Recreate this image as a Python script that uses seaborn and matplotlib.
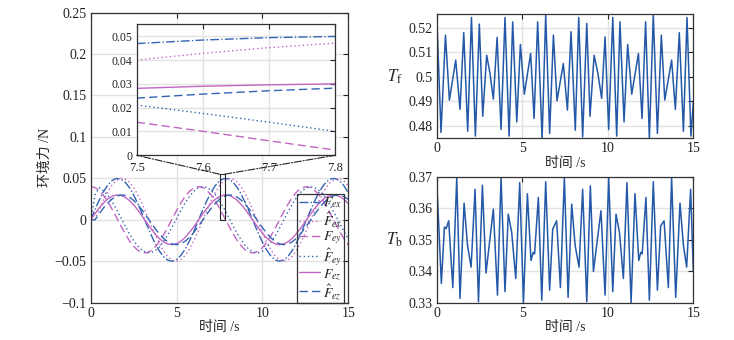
import numpy as np
import seaborn as sns
import matplotlib.pyplot as plt
from matplotlib.patches import Rectangle, ConnectionPatch

sns.set_style("whitegrid")
plt.rcParams['font.family'] = ['Liberation Serif', 'Noto Sans CJK SC']
plt.rcParams['mathtext.fontset'] = 'stix'
plt.rcParams['axes.unicode_minus'] = True

BLUE = '#3564b2'
PINK = '#c266c4'
LINE = '#2458a8'

# ---- environment force, sampled every 0.25 s ----
t_force = np.linspace(0, 15, 61)
F_ex = [0.0, 0.0124, 0.0240, 0.0341, 0.0421, 0.0475, 0.0499, 0.0492, 0.0455, 0.0389,
        0.0299, 0.0191, 0.0071, -0.0054, -0.0175, -0.0286, -0.0378, -0.0448, -0.0489, -0.0500,
        -0.0479, -0.0429, -0.0353, -0.0254, -0.0140, -0.0017, 0.0108, 0.0225, 0.0329, 0.0412,
        0.0469, 0.0497, 0.0495, 0.0461, 0.0399, 0.0312, 0.0206, 0.0087, -0.0038, -0.0160,
        -0.0272, -0.0367, -0.0440, -0.0485, -0.0500, -0.0484, -0.0438, -0.0364, -0.0268, -0.0156,
        -0.0033, 0.0091, 0.0210, 0.0316, 0.0402, 0.0463, 0.0495, 0.0497, 0.0467, 0.0409, 0.0325]
F_ex_hat = [0.0, 0.0, 0.0124, 0.0240, 0.0341, 0.0421, 0.0475, 0.0499, 0.0492, 0.0455,
            0.0389, 0.0299, 0.0191, 0.0071, -0.0054, -0.0175, -0.0286, -0.0378, -0.0448, -0.0489,
            -0.0500, -0.0479, -0.0429, -0.0353, -0.0254, -0.0140, -0.0017, 0.0108, 0.0225, 0.0329,
            0.0412, 0.0469, 0.0497, 0.0495, 0.0461, 0.0399, 0.0312, 0.0206, 0.0087, -0.0038,
            -0.0160, -0.0272, -0.0367, -0.0440, -0.0485, -0.0500, -0.0484, -0.0438, -0.0364, -0.0268,
            -0.0156, -0.0033, 0.0091, 0.0210, 0.0316, 0.0402, 0.0463, 0.0495, 0.0497, 0.0467, 0.0409]
F_ey = [0.0400, 0.0388, 0.0351, 0.0293, 0.0216, 0.0126, 0.0028, -0.0071, -0.0166, -0.0251,
        -0.0320, -0.0370, -0.0396, -0.0398, -0.0375, -0.0328, -0.0261, -0.0178, -0.0084, 0.0015,
        0.0113, 0.0205, 0.0283, 0.0344, 0.0384, 0.0400, 0.0391, 0.0357, 0.0302, 0.0227,
        0.0139, 0.0041, -0.0058, -0.0155, -0.0241, -0.0312, -0.0364, -0.0394, -0.0399, -0.0379,
        -0.0336, -0.0271, -0.0190, -0.0097, 0.0002, 0.0101, 0.0193, 0.0274, 0.0338, 0.0380,
        0.0399, 0.0393, 0.0363, 0.0310, 0.0238, 0.0151, 0.0055, -0.0045, -0.0142, -0.0230, -0.0304]
F_ey_hat = [0.0, 0.0300, 0.0388, 0.0351, 0.0293, 0.0216, 0.0126, 0.0028, -0.0071, -0.0166,
            -0.0251, -0.0320, -0.0370, -0.0396, -0.0398, -0.0375, -0.0328, -0.0261, -0.0178, -0.0084,
            0.0015, 0.0113, 0.0205, 0.0283, 0.0344, 0.0384, 0.0400, 0.0391, 0.0357, 0.0302,
            0.0227, 0.0139, 0.0041, -0.0058, -0.0155, -0.0241, -0.0312, -0.0364, -0.0394, -0.0399,
            -0.0379, -0.0336, -0.0271, -0.0190, -0.0097, 0.0002, 0.0101, 0.0193, 0.0274, 0.0338,
            0.0380, 0.0399, 0.0393, 0.0363, 0.0310, 0.0238, 0.0151, 0.0055, -0.0045, -0.0142, -0.0230]
F_ez = [0.0, 0.0074, 0.0144, 0.0204, 0.0252, 0.0285, 0.0299, 0.0295, 0.0273, 0.0233,
        0.0180, 0.0115, 0.0042, -0.0032, -0.0105, -0.0171, -0.0227, -0.0269, -0.0293, -0.0300,
        -0.0288, -0.0258, -0.0212, -0.0152, -0.0084, -0.0010, 0.0065, 0.0135, 0.0197, 0.0247,
        0.0281, 0.0298, 0.0297, 0.0277, 0.0240, 0.0187, 0.0124, 0.0052, -0.0023, -0.0096,
        -0.0163, -0.0220, -0.0264, -0.0291, -0.0300, -0.0290, -0.0263, -0.0219, -0.0161, -0.0093,
        -0.0020, 0.0055, 0.0126, 0.0189, 0.0241, 0.0278, 0.0297, 0.0298, 0.0280, 0.0245, 0.0195]
F_ez_hat = [0.0, 0.0, 0.0074, 0.0144, 0.0204, 0.0252, 0.0285, 0.0299, 0.0295, 0.0273,
            0.0233, 0.0180, 0.0115, 0.0042, -0.0032, -0.0105, -0.0171, -0.0227, -0.0269, -0.0293,
            -0.0300, -0.0288, -0.0258, -0.0212, -0.0152, -0.0084, -0.0010, 0.0065, 0.0135, 0.0197,
            0.0247, 0.0281, 0.0298, 0.0297, 0.0277, 0.0240, 0.0187, 0.0124, 0.0052, -0.0023,
            -0.0096, -0.0163, -0.0220, -0.0264, -0.0291, -0.0300, -0.0290, -0.0263, -0.0219, -0.0161,
            -0.0093, -0.0020, 0.0055, 0.0126, 0.0189, 0.0241, 0.0278, 0.0297, 0.0298, 0.0280, 0.0245]

# zoomed window 7.5 - 7.8 s
t_zoom = [7.5, 7.6, 7.7, 7.8]
Z_ex = [0.0469, 0.0484, 0.0494, 0.0499]
Z_ex_hat = [0.0400, 0.0428, 0.0452, 0.0471]
Z_ey = [0.0139, 0.0101, 0.0061, 0.0022]
Z_ey_hat = [0.0211, 0.0176, 0.0139, 0.0101]
Z_ez = [0.0281, 0.0290, 0.0296, 0.0300]
Z_ez_hat = [0.0240, 0.0257, 0.0271, 0.0282]

# ---- T_f and T_b (peaks / troughs) ----
Tf_t = [0, 0.25, 0.51, 0.74, 1.11, 1.36, 1.58, 1.81, 2.03, 2.26, 2.49, 2.69, 2.92, 3.11, 3.31,
        3.53, 3.76, 3.99, 4.23, 4.44, 4.68, 4.89, 5.12, 5.49, 5.69, 5.90, 6.16, 6.37, 6.60, 6.82,
        7.03, 7.40, 7.64, 7.85, 8.10, 8.30, 8.53, 8.77, 8.96, 9.20, 9.42, 9.64, 9.84, 10.05, 10.29,
        10.52, 10.71, 10.95, 11.16, 11.40, 11.79, 12.00, 12.21, 12.43, 12.66, 12.90, 13.13, 13.33,
        13.73, 13.95, 14.18, 14.42, 14.63, 14.86, 15.0]
Tf_v = [0.5252, 0.4773, 0.517, 0.4905, 0.5068, 0.4867, 0.518, 0.4778, 0.5242, 0.4758, 0.5215,
        0.4839, 0.5088, 0.5015, 0.4909, 0.5161, 0.4785, 0.5242, 0.4758, 0.5224, 0.4816, 0.5132,
        0.4929, 0.5095, 0.483, 0.5224, 0.4748, 0.5254, 0.4769, 0.517, 0.4902, 0.5054, 0.4864,
        0.5184, 0.4782, 0.5242, 0.4755, 0.5218, 0.4839, 0.5088, 0.5015, 0.4912, 0.5163, 0.4785,
        0.5242, 0.4758, 0.5224, 0.4816, 0.5132, 0.4929, 0.5095, 0.483, 0.5224, 0.4748, 0.5254,
        0.4769, 0.517, 0.4905, 0.5068, 0.4867, 0.518, 0.4778, 0.5242, 0.4758, 0.49]

Tb_t = [0, 0.27, 0.45, 0.55, 0.70, 0.94, 1.17, 1.36, 1.60, 1.80, 2.01, 2.24, 2.44, 2.67, 2.88,
        3.31, 3.55, 3.76, 3.99, 4.18, 4.38, 4.62, 4.85, 5.07, 5.30, 5.51, 5.64, 5.72, 5.94, 6.14,
        6.37, 6.60, 6.78, 7.01, 7.23, 7.46, 7.68, 7.89, 8.09, 8.32, 8.53, 8.77, 8.98, 9.16, 9.60,
        9.84, 10.05, 10.29, 10.48, 10.68, 10.91, 11.12, 11.36, 11.59, 11.81, 11.93, 12.01, 12.23,
        12.43, 12.66, 12.90, 13.09, 13.29, 13.54, 13.73, 13.97, 14.22, 14.42, 14.61, 14.84, 15.0]
Tb_v = [0.3686, 0.3361, 0.3540, 0.3535, 0.3560, 0.3348, 0.3697, 0.3314, 0.3616, 0.3482, 0.3413,
        0.3660, 0.3303, 0.3673, 0.3394, 0.3597, 0.3324, 0.3697, 0.3335, 0.3581, 0.3524, 0.3377,
        0.3681, 0.3300, 0.3646, 0.3434, 0.3460, 0.3455, 0.3634, 0.3308, 0.3684, 0.3340, 0.3534,
        0.3560, 0.3348, 0.3697, 0.3317, 0.3613, 0.3482, 0.3413, 0.3660, 0.3303, 0.3671, 0.3399,
        0.3592, 0.3324, 0.3697, 0.3335, 0.3581, 0.3524, 0.3377, 0.3681, 0.3300, 0.3646, 0.3434,
        0.3460, 0.3455, 0.3634, 0.3308, 0.3684, 0.3340, 0.3544, 0.3560, 0.3348, 0.3697, 0.3317,
        0.3616, 0.3482, 0.3413, 0.3660, 0.3400]

labels = [r'$F_{ex}$', r'$\hat{F}_{ex}$', r'$F_{ey}$', r'$\hat{F}_{ey}$', r'$F_{ez}$', r'$\hat{F}_{ez}$']
colors = [BLUE, PINK, PINK, BLUE, PINK, BLUE]
styles = ['-.', (0, (1, 2)), (0, (6, 3)), (0, (1, 2)), '-', (0, (6, 3))]
force = [F_ex, F_ex_hat, F_ey, F_ey_hat, F_ez, F_ez_hat]
zoom = [Z_ex, Z_ex_hat, Z_ey, Z_ey_hat, Z_ez, Z_ez_hat]


def style_ax(ax, fs=10):
    ax.set_facecolor('white')
    ax.grid(True, color='#e2e2e2', lw=1.0)
    ax.tick_params(direction='in', top=True, right=True, length=3.5, width=0.8,
                   labelsize=fs, colors='#222222', pad=3)
    for s in ax.spines.values():
        s.set_color('#333333')
        s.set_linewidth(0.9)


fig = plt.figure(figsize=(7.34, 3.40), dpi=100)

# left panel
ax = fig.add_axes([0.1236, 0.1097, 0.351, 0.8535])
for y, c, ls, lb in zip(force, colors, styles, labels):
    sns.lineplot(x=t_force, y=y, ax=ax, color=c, linestyle=ls, lw=1.0, label=lb)
ax.set_xlim(0, 15)
ax.set_ylim(-0.1, 0.25)
ax.set_xticks([0, 5, 10, 15])
ax.set_yticks([-0.1, -0.05, 0, 0.05, 0.1, 0.15, 0.2, 0.25])
ax.set_yticklabels(['\u22120.1', '\u22120.05', '0', '0.05', '0.1', '0.15', '0.2', '0.25'])
style_ax(ax)
ax.set_xlabel('时间 /s', fontsize=10, labelpad=1)
ax.set_ylabel('环境力 /N', fontsize=10, labelpad=2)
leg = ax.legend(loc='lower right', bbox_to_anchor=(0.985, 0.0), borderaxespad=0,
                fontsize=10, handlelength=1.5, handletextpad=0.2, labelspacing=0.0,
                borderpad=0.15, fancybox=False, facecolor='none', edgecolor='#333333')
leg.get_frame().set_linewidth(0.9)
leg.get_frame().set_alpha(None)

ax.add_patch(Rectangle((7.5, 0), 0.3, 0.055, fill=False, ec='#222222', lw=0.8, zorder=5))

# inset
axin = fig.add_axes([0.1862, 0.5432, 0.2702, 0.3853])
for y, c, ls in zip(zoom, colors, styles):
    sns.lineplot(x=t_zoom, y=y, ax=axin, color=c, linestyle=ls, lw=1.0)
axin.set_xlim(7.5, 7.8)
axin.set_ylim(0, 0.055)
axin.set_xticks([7.5, 7.6, 7.7, 7.8])
axin.set_xticklabels(['7.5', '7.6', '7.7', '7.8'])
axin.set_yticks([0, 0.01, 0.02, 0.03, 0.04, 0.05])
axin.set_yticklabels(['0', '0.01', '0.02', '0.03', '0.04', '0.05'])
style_ax(axin, fs=8.5)
axin.tick_params(axis='x', pad=5, labelsize=9)
axin.set_xlabel('')
axin.set_ylabel('')

for xa, xb in [(7.5, 0), (7.8, 1)]:
    con = ConnectionPatch(xyA=(xa, 0.055), coordsA=ax.transData, xyB=(xb, 0),
                          coordsB=axin.transAxes, linestyle='-.', color='#222222', lw=0.8)
    fig.add_artist(con)

# right top: T_f
ax1 = fig.add_axes([0.595, 0.5932, 0.3496, 0.3647])
sns.lineplot(x=Tf_t, y=Tf_v, ax=ax1, color=LINE, lw=1.1)
ax1.set_xlim(0, 15)
ax1.set_ylim(0.4749, 0.5255)
ax1.set_xticks([0, 5, 10, 15])
ax1.set_yticks([0.48, 0.49, 0.50, 0.51, 0.52])
ax1.set_yticklabels(['0.48', '0.49', '0.5', '0.51', '0.52'])
style_ax(ax1)
ax1.set_xlabel('时间 /s', fontsize=10, labelpad=1)
ax1.set_ylabel(r'$T_\mathrm{f}$', fontsize=12, rotation=0, labelpad=10, va='center')

# right bottom: T_b
ax2 = fig.add_axes([0.595, 0.1097, 0.3496, 0.3706])
sns.lineplot(x=Tb_t, y=Tb_v, ax=ax2, color=LINE, lw=1.1)
ax2.set_xlim(0, 15)
ax2.set_ylim(0.33, 0.37)
ax2.set_xticks([0, 5, 10, 15])
ax2.set_yticks([0.33, 0.34, 0.35, 0.36, 0.37])
ax2.set_yticklabels(['0.33', '0.34', '0.35', '0.36', '0.37'])
style_ax(ax2)
ax2.set_xlabel('时间 /s', fontsize=10, labelpad=1)
ax2.set_ylabel(r'$T_\mathrm{b}$', fontsize=12, rotation=0, labelpad=10, va='center')

fig.savefig('out.png', dpi=100)
